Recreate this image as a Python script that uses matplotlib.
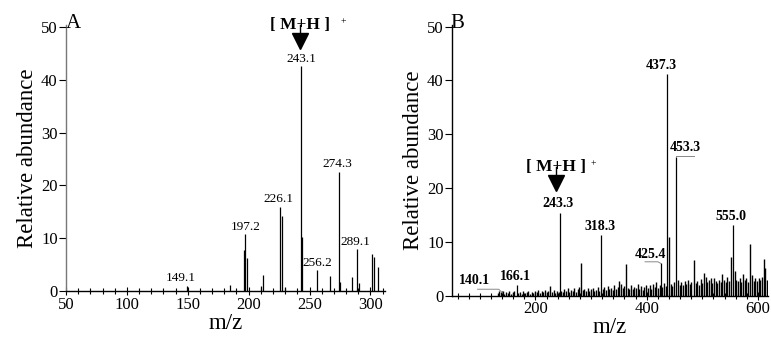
import matplotlib
matplotlib.use("Agg")
import matplotlib.pyplot as plt
from matplotlib.ticker import MultipleLocator

plt.rcParams['font.family'] = ['Liberation Serif', 'DejaVu Serif']

# ---------------- data: panel A ----------------
mz_A = [149.1, 184.5, 196.0, 197.2, 198.6, 209.8, 211.5, 226.1, 227.0, 229.5,
        243.1, 244.1, 256.2, 267.2, 274.3, 275.2, 284.8, 289.1, 290.3,
        301.2, 303.0, 306.5]
int_A = [1.0, 1.1, 7.8, 10.8, 6.2, 0.9, 3.1, 16.0, 14.2, 0.7,
         42.6, 10.2, 3.9, 2.9, 22.6, 1.8, 2.7, 7.9, 1.5,
         7.1, 6.5, 4.5]
labels_A = ["149.1", "197.2", "226.1", "243.1", "256.2", "274.3", "289.1"]
label_mz_A = [149.1, 197.2, 226.1, 243.1, 256.2, 274.3, 289.1]
label_int_A = [1.0, 10.8, 16.0, 42.6, 3.9, 22.6, 7.9]

# ---------------- data: panel B ----------------
mz_B_main = [140.1, 166.1, 243.3, 318.3, 425.4, 437.3, 453.3, 555.0]
int_B_main = [0.8, 1.9, 15.3, 11.3, 6.0, 41.2, 25.7, 13.1]
labels_B = ["140.1", "166.1", "243.3", "318.3", "425.4", "437.3", "453.3", "555.0"]

mz_B_minor = [132, 135, 138, 141, 144, 147, 150, 153, 156, 159, 162, 169, 172,
              175, 178, 181, 184, 187, 190, 193, 196, 199, 202, 205, 208, 211,
              214, 217, 220, 223, 227, 230, 233, 236, 239, 242, 246, 249,
              252, 255, 258, 261, 264, 267, 270, 273, 276, 279, 282, 285, 288,
              291, 294, 297, 300, 303, 306, 309, 312, 315, 321, 324, 327, 330,
              333, 336, 339, 342, 345, 348, 351, 354, 357, 360, 363, 366, 369,
              372, 375, 378, 381, 384, 387, 390, 393, 396, 399, 402, 405, 408,
              411, 414, 417, 420, 423, 428, 431, 434,
              440, 443, 446, 449, 456, 459, 462, 465, 468, 471, 474, 477, 480,
              485, 488, 491, 494, 497, 500, 503, 506, 509, 512, 515, 518, 521,
              524, 527, 530, 533, 536, 539, 542, 545, 548, 552, 558, 561, 564,
              567, 570, 573, 576, 579, 582, 586, 589, 592, 595, 598, 601, 604,
              607, 610, 613, 616]
int_B_minor = [0.5, 0.9, 0.6, 0.8, 0.4, 0.7, 0.5, 0.9, 0.4, 0.6, 0.8, 0.5, 0.7,
               0.4, 0.9, 0.5, 0.6, 0.8, 0.4, 0.7, 0.5, 0.9, 0.6, 1.0, 0.5, 0.8,
               0.6, 1.1, 0.7, 0.9, 1.8, 0.6, 1.0, 0.5, 0.8, 0.7, 0.9, 0.6,
               1.2, 0.8, 1.5, 0.7, 1.1, 0.9, 1.4, 0.6, 1.2, 1.6, 6.0, 1.0, 1.3,
               0.8, 1.4, 0.9, 1.2, 1.5, 0.8, 1.1, 1.7, 0.9, 1.2, 1.6, 1.0, 1.8,
               1.3, 1.5, 1.1, 2.0, 1.2, 1.6, 2.8, 2.2, 1.4, 1.8, 5.9, 1.5, 1.3,
               1.9, 1.2, 1.6, 1.4, 2.1, 1.3, 1.8, 1.1, 1.6, 2.0, 1.4, 1.9, 1.3,
               2.2, 1.7, 2.5, 1.5, 2.0, 1.6, 2.4, 1.8,
               11.0, 2.2, 1.8, 2.6, 2.9, 2.0, 2.5, 1.9, 2.7, 2.2, 3.0, 2.1, 2.6,
               6.6, 2.3, 2.8, 2.0, 3.1, 2.4, 4.3, 3.5, 2.5, 3.0, 3.2, 2.3, 3.2,
               2.7, 2.4, 3.0, 2.6, 4.1, 3.0, 2.6, 3.4, 2.8, 7.1, 4.6, 3.0, 2.7,
               3.3, 2.5, 4.1, 2.9, 3.2, 2.6, 9.6, 3.8, 2.8, 3.3, 2.7, 3.2, 3.0,
               3.5, 6.9, 5.1, 3.0]

yticks = [0, 10, 20, 30, 40, 50]
xticks_A = [50, 100, 150, 200, 250, 300]
xticks_B = [200, 400, 600]

# ---------------- figure ----------------
fig = plt.figure(figsize=(7.71, 3.40), dpi=100)
W, H = 771.0, 340.0

axA = fig.add_axes([66 / W, (H - 291) / H, (385 - 66) / W, (291 - 25) / H])
axB = fig.add_axes([452 / W, (H - 295.7) / H, (768 - 452) / W, (295.7 - 25) / H])


def style(ax, xlim, ylim_top, xticks, minor, spine_color):
    ax.set_xlim(*xlim)
    ax.set_ylim(0, ylim_top)
    for s in ("top", "right"):
        ax.spines[s].set_visible(False)
    ax.spines["left"].set_color(spine_color)
    ax.spines["left"].set_linewidth(1.0)
    ax.spines["bottom"].set_linewidth(1.0)
    ax.set_yticks(yticks)
    ax.set_xticks(xticks)
    ax.xaxis.set_minor_locator(MultipleLocator(minor))
    ax.tick_params(axis="y", direction="out", length=5, width=0.8,
                   labelsize=12, pad=1)
    ax.tick_params(axis="x", which="major", direction="inout", length=6,
                   width=0.8, labelsize=12, pad=1)
    ax.tick_params(axis="x", which="minor", direction="inout", length=4,
                   width=0.8)
    ax.set_ylabel("Relative abundance", fontsize=16.5, labelpad=2)
    ax.set_xlabel("m/z", fontsize=16.5, labelpad=0)


style(axA, (50, 312), 50.4, xticks_A, 10, "#777777")
style(axB, (50, 618), 50.3, xticks_B, 20, "black")

# panel A peaks
axA.vlines(mz_A, 0, int_A, colors="black", linewidth=0.9)
label_dx_A = [-5, 0, -2, 0, 0, -1.5, -1.5]
for lab, x, y, dx in zip(labels_A, label_mz_A, label_int_A, label_dx_A):
    axA.annotate(lab, (x + dx, y), xytext=(0, 1), textcoords="offset points",
                 ha="center", va="bottom", fontsize=9.5)

# panel B peaks
axB.vlines(mz_B_minor, 0, int_B_minor, colors="black", linewidth=1.0)
axB.vlines(mz_B_main, 0, int_B_main, colors="black", linewidth=0.9)
label_pos_B = {
    "140.1": (91, 1.6),
    "166.1": (164, 2.4),
    "243.3": (240, 16.0),
    "318.3": (316, 11.6),
    "425.4": (406, 6.5),
    "437.3": (426, 41.6),
    "453.3": (469, 26.3),
    "555.0": (551, 13.5),
}
for lab in labels_B:
    x, y = label_pos_B[lab]
    axB.text(x, y, lab, ha="center", va="bottom", fontsize=10,
             fontweight="bold")
# leader lines
axB.plot([96, 134, 141], [1.2, 1.2, 0.5], color="#888888", lw=0.7)
axB.plot([397, 420, 425.4], [6.3, 6.3, 6.0], color="#888888", lw=0.7)
axB.plot([453.3, 485], [25.9, 25.9], color="#888888", lw=0.7)


# [M+H]+ annotations
def mh(ax, x, ytext, ytop, ytip, plus_dx):
    ax.text(x, ytext, "[ M+H ]", ha="center", va="center", fontsize=12.5,
            fontweight="bold", clip_on=False)
    ax.text(x + plus_dx, ytext + 0.6, "+", ha="left", va="center",
            fontsize=7, clip_on=False)
    ax.plot([x, x], [ytext, ytop], color="black", lw=1.0, clip_on=False)
    ax.plot([x], [(ytop + ytip) / 2 + 0.5], marker="v", markersize=12,
            color="black", clip_on=False)


mh(axA, 242.5, 50.4, 48.0, 45.6, 33)
mh(axB, 237, 23.9, 21.7, 19.3, 62)

# panel letters
fig.text(66 / W, 1 - 28 / H, "A", fontsize=15, ha="left", va="baseline")
fig.text(450 / W, 1 - 28 / H, "B", fontsize=15, ha="left", va="baseline")

fig.savefig("out.png", dpi=100)
